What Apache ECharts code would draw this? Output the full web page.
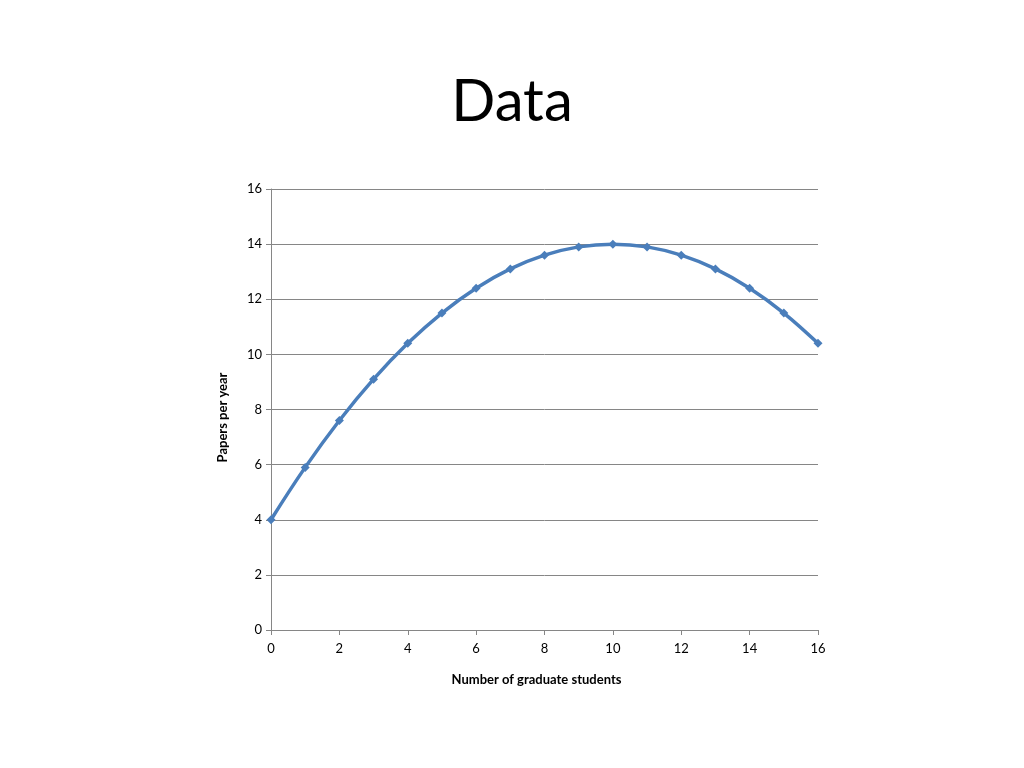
<!DOCTYPE html>
<html><head><meta charset="utf-8">
<script src="https://cdn.jsdelivr.net/npm/echarts@6/dist/echarts.min.js"></script>
<style>html,body{margin:0;padding:0;background:#fff}#c{width:1024px;height:768px}</style>
</head><body><div id="c"></div>
<script>
const students = [0,1,2,3,4,5,6,7,8,9,10,11,12,13,14,15,16];
const papers = [4,5.9,7.6,9.1,10.4,11.5,12.4,13.1,13.6,13.9,14,13.9,13.6,13.1,12.4,11.5,10.4];
const chart = echarts.init(document.getElementById('c'));
const F = 'Lato, "Open Sans", sans-serif';
chart.setOption({
  animation:false,
  title:{text:'Data',left:'center',top:68,textStyle:{fontFamily:F,fontSize:58,fontWeight:'normal',color:'#000'}},
  grid:{left:271,right:206,top:189,bottom:138},
  xAxis:{type:'value',min:0,max:16,interval:2,name:'Number of graduate students',nameLocation:'middle',nameGap:43,
    nameTextStyle:{fontFamily:F,fontSize:13,fontWeight:'bold',color:'#000',padding:[0,16,0,0]},
    axisLine:{lineStyle:{color:'#868686'}},axisTick:{show:true,length:5,lineStyle:{color:'#868686'}},
    axisLabel:{fontFamily:F,fontSize:13,color:'#000',margin:12},splitLine:{show:false}},
  yAxis:{type:'value',min:0,max:16,interval:2,name:'Papers per year',nameLocation:'middle',nameGap:42,
    nameTextStyle:{fontFamily:F,fontSize:13,fontWeight:'bold',color:'#000',padding:[0,16,0,0]},
    axisLine:{show:true,lineStyle:{color:'#868686'}},axisTick:{show:true,length:5,lineStyle:{color:'#868686'}},
    axisLabel:{fontFamily:F,fontSize:13,color:'#000',margin:9},splitLine:{lineStyle:{color:'#868686'}}},
  series:[{type:'line',data:students.map((x,i)=>[x,papers[i]]),smooth:0.4,symbol:'diamond',symbolSize:9,
    lineStyle:{color:'#4a7ebb',width:3.5},itemStyle:{color:'#4a7ebb'}}]
});
</script></body></html>
